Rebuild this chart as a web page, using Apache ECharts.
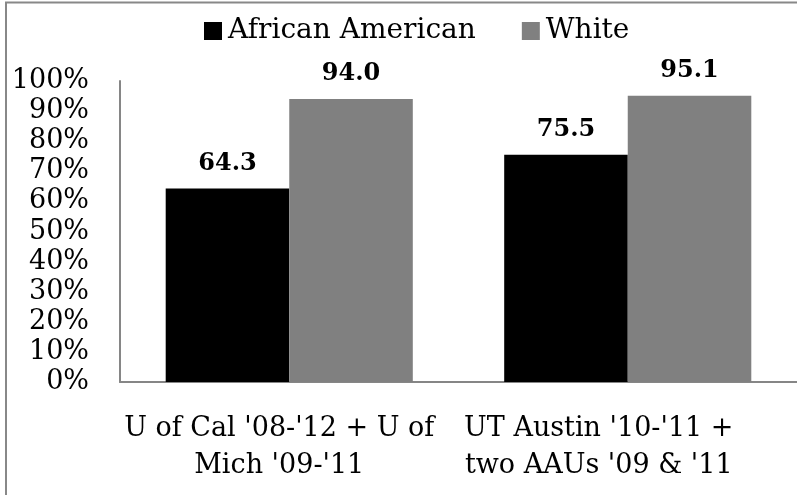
<!DOCTYPE html>
<html>
<head>
<meta charset="utf-8">
<script src="https://cdn.jsdelivr.net/npm/echarts@6/dist/echarts.min.js"></script>
<style>
  html, body { margin: 0; padding: 0; background: #fff; }
  #chart { width: 797px; height: 495px; }
</style>
</head>
<body>
<div id="chart"></div>
<script>
// Graduation rates by group, in percent
const categories = ["U of Cal '08-'12 + U of\nMich '09-'11", "UT Austin '10-'11 +\ntwo AAUs '09 & '11"];
const seriesNames = ['African American', 'White'];
const africanAmerican = [64.3, 75.5];
const white = [94.0, 95.1];

const FONT = 'DejaVu Serif';
const chart = echarts.init(document.getElementById('chart'));

const valueLabel = {
  show: true, position: 'top', distance: 13,
  fontFamily: FONT, fontWeight: 'bold', fontSize: 24, color: '#000',
  formatter: p => p.value.toFixed(1)
};

chart.setOption({
  animation: false,
  backgroundColor: '#fff',
  textStyle: { fontFamily: FONT, color: '#000' },
  graphic: [{
    type: 'rect',
    shape: { x: 6, y: 2.5, width: 900, height: 600 },
    style: { fill: 'none', stroke: '#888', lineWidth: 2 }
  }],
  legend: {
    top: 12,
    left: 199,
    icon: 'rect',
    itemWidth: 18,
    itemHeight: 18,
    itemGap: 46,
    textStyle: { fontFamily: FONT, fontSize: 28, color: '#000', padding: [0, 0, 0, 1] },
    data: seriesNames
  },
  grid: { left: 120, top: 81, width: 684, height: 301 },
  xAxis: {
    type: 'category',
    data: [
      { value: categories[0], textStyle: { padding: [0, 20, 0, 0] } },
      { value: categories[1], textStyle: { padding: [0, 58, 0, 0] } }
    ],
    axisLine: { lineStyle: { color: '#868686', width: 2 } },
    axisTick: { show: false },
    axisLabel: { fontFamily: FONT, fontSize: 27, color: '#000', margin: 28, lineHeight: 37, interval: 0 }
  },
  yAxis: {
    type: 'value',
    min: 0,
    max: 100,
    interval: 10,
    axisLine: { show: true, lineStyle: { color: '#868686', width: 2 } },
    axisTick: { show: false },
    splitLine: { show: false },
    axisLabel: { fontFamily: FONT, fontSize: 27, color: '#000', margin: 31, formatter: '{value}%' }
  },
  series: [
    {
      name: seriesNames[0],
      type: 'bar',
      data: africanAmerican,
      barGap: 0,
      barCategoryGap: '27%',
      itemStyle: { color: '#000' },
      label: valueLabel
    },
    {
      name: seriesNames[1],
      type: 'bar',
      data: white,
      barGap: 0,
      barCategoryGap: '27%',
      itemStyle: { color: '#808080' },
      label: valueLabel
    }
  ]
});
</script>
</body>
</html>
